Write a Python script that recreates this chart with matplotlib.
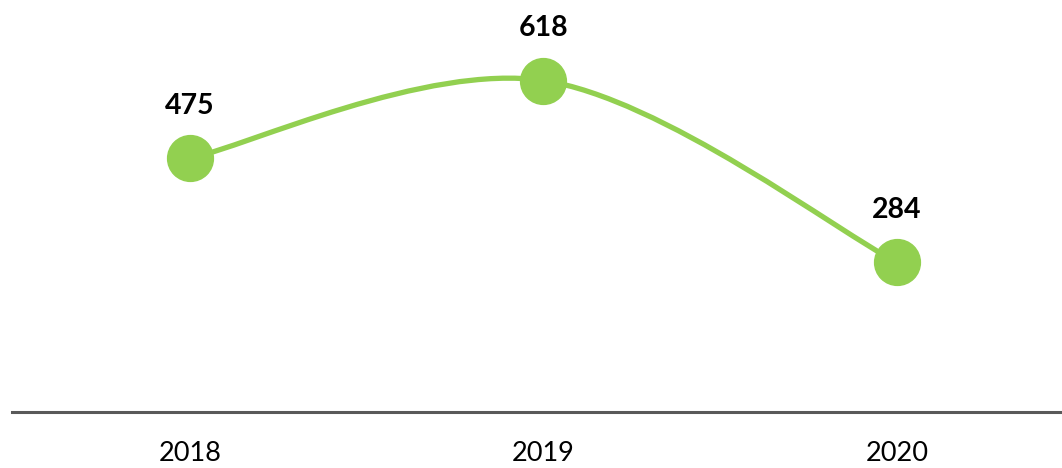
import matplotlib
matplotlib.use("Agg")
import matplotlib.pyplot as plt
from matplotlib.path import Path
from matplotlib.patches import PathPatch

years = [2018, 2019, 2020]
values = [475, 618, 284]
labels = ["2018", "2019", "2020"]

green = "#92D050"

fig = plt.figure(figsize=(10.62, 4.68), dpi=100)
ax = fig.add_axes([12/1062, 56/468, 1 - 12/1062, 412/468])
x = list(range(len(years)))
ax.set_xlim(-0.5035, 2.467)
ax.set_ylim(9, 766)

# smooth curve (Catmull-Rom as cubic Bezier) through the data points
pts = list(zip(x, values))
verts = [pts[0]]
codes = [Path.MOVETO]
n = len(pts)
for i in range(n - 1):
    p0 = pts[i - 1] if i > 0 else pts[i]
    p1 = pts[i]
    p2 = pts[i + 1]
    p3 = pts[i + 2] if i + 2 < n else pts[i + 1]
    c1 = (p1[0] + (p2[0] - p0[0]) / 6, p1[1] + (p2[1] - p0[1]) / 6)
    c2 = (p2[0] - (p3[0] - p1[0]) / 6, p2[1] - (p3[1] - p1[1]) / 6)
    verts += [c1, c2, p2]
    codes += [Path.CURVE4] * 3
ax.add_patch(PathPatch(Path(verts, codes), facecolor="none", edgecolor=green,
                       lw=3.8, capstyle="round", zorder=2))
ax.plot(x, values, linestyle="none", marker="o", markersize=33,
        color=green, zorder=3)

for xi, v in zip(x, values):
    ax.annotate(str(v), (xi, v), xytext=(0, 38), textcoords="offset points",
                ha="center", va="center", fontsize=20.5, fontweight="bold",
                family="Lato", color="black")

for s in ["top", "left", "right"]:
    ax.spines[s].set_visible(False)
ax.spines["bottom"].set_color("#595959")
ax.spines["bottom"].set_linewidth(2.2)
ax.set_yticks([])
ax.set_xticks(x)
ax.set_xticklabels(labels, fontsize=19.5, family="Lato")
ax.tick_params(axis="x", length=0, pad=21)
ax.set_facecolor("white")
fig.savefig("out.png", dpi=100, facecolor="white")
